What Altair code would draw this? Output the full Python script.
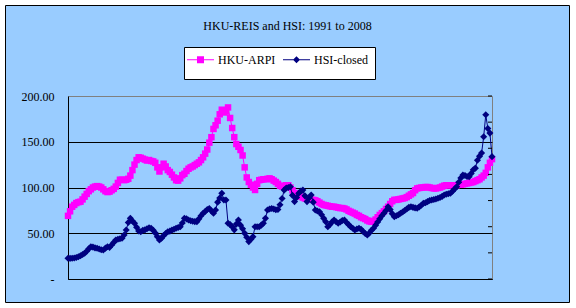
import altair as alt
import pandas as pd

TITLE = "HKU-REIS and HSI: 1991 to 2008"
SERIES = ["HKU-ARPI", "HSI-closed"]
MAGENTA = "#FF00FF"
NAVY = "#000080"

ARPI = [
    69, 74, 79, 81, 83, 84, 84.5, 87, 90, 93,
    96, 98, 100, 101, 101.5, 101, 100, 98, 96, 95,
    95.5, 97, 98.5, 101, 105, 108.5, 108.5, 108, 108.5, 109.5,
    113, 119, 125, 130, 133, 132.5, 131.5, 130.5, 129.5, 130,
    129, 128.5, 127, 122, 117.5, 122, 126, 123, 119, 117,
    114, 111, 108, 107.5, 110, 113.5, 115, 118, 120.5, 122,
    123, 124.5, 126, 127.5, 130, 133, 137, 141.5, 149, 155,
    164, 168, 173, 180, 185, 182, 183, 187.5, 176, 165,
    155, 147.5, 144.5, 141, 135, 122, 111, 106, 103, 100,
    97.3, 104, 108, 108.5, 109, 109, 109.5, 110, 109, 107.5,
    106, 104, 102, 101, 101.5, 102.5, 102.5, 100, 97, 94,
    92.5, 91, 90, 89, 88, 87.5, 87, 86.5, 86.5, 86,
    85, 83.5, 82, 81, 80.5, 80, 79.5, 79, 79, 78.5,
    78, 77.5, 77.5, 77, 76, 74.5, 73.5, 72.5, 71.5, 70,
    69, 67.5, 66.5, 65.5, 64, 63, 62.5, 63.5, 65, 67.5,
    70, 72, 74, 76.5, 79, 82, 85, 86.5, 86.5, 87,
    87.5, 88, 88.5, 89.5, 91, 92.5, 94, 97, 99, 99.5,
    100, 100, 100.5, 100.5, 100, 99.5, 99, 99, 99.5, 100,
    101, 102, 102.5, 102.5, 102.5, 102.5, 102.5, 102.5, 103, 103,
    103.5, 104, 104.5, 105, 105.5, 106, 107, 108, 109, 111,
    113, 116, 122, 127, 131,
]

HSI = [
    3960, 3950, 3970, 4000, 4100, 4250, 4450, 4700, 4920, 5300,
    5800, 6150, 6100, 5950, 5870, 5750, 5600, 5550, 5900, 6180,
    6050, 6500, 7000, 7450, 7600, 7700, 7780, 8400, 9370, 10800,
    11600, 11100, 10650, 9900, 9200, 9050, 9300, 9400, 9600, 9800,
    9700, 9300, 8800, 8100, 7460, 7800, 8300, 8700, 9050, 9150,
    9350, 9500, 9700, 9850, 10000, 10700, 11600, 11500, 11300, 11150,
    11050, 10980, 10960, 11500, 12100, 12570, 12900, 13300, 13500, 13000,
    12570, 13200, 14700, 15500, 16400, 15100, 15100, 10650, 10400, 10000,
    9400, 10500, 11300, 10300, 9600, 8750, 8000, 7150, 7600, 8100,
    10000, 10000, 10000, 10300, 10650, 11600, 13200, 13400, 13500, 13400,
    13250, 13300, 14200, 15400, 17000, 17400, 17500, 17650, 16000, 14800,
    15600, 16400, 16800, 17000, 15900, 14800, 15500, 16050, 14700, 13200,
    13000, 12870, 12300, 11600, 10950, 10000, 10400, 10900, 11280, 10950,
    10650, 10900, 11200, 11280, 10800, 10400, 10000, 9700, 9370, 9550,
    9690, 9500, 9100, 8700, 8420, 8800, 9300, 9700, 10300, 10900,
    11500, 12100, 12570, 13100, 13800, 13300, 12500, 11900, 12100, 12300,
    12570, 12800, 13100, 13400, 13700, 13830, 13700, 13600, 13520, 13800,
    14100, 14480, 14600, 14800, 15000, 15100, 15200, 15300, 15430, 15600,
    15800, 16070, 16200, 16300, 16390, 16800, 17200, 17660, 18500, 19300,
    19900, 19800, 19600, 19560, 20200, 20900, 21200, 22700, 23500, 24100,
    27200, 31400, 28800, 27900, 23400,
]

LEFT_TICKS = [0, 50, 100, 150, 200]
RIGHT_TICKS = [0, 5000, 10000, 15000, 20000, 25000, 30000, 35000]

FONT = "Liberation Serif"
W, H = 424, 183

df = pd.DataFrame({"idx": list(range(len(ARPI))), "arpi": ARPI, "hsi": HSI})
base = alt.Chart(df)

xenc = alt.X(
    "idx:Q",
    scale=alt.Scale(domain=[0, len(ARPI) - 1], nice=False, zero=False),
    axis=alt.Axis(title=None, labels=False, ticks=False, grid=False,
                  domainColor="black", domainWidth=1),
)

nb = "\u00a0"
yL = alt.Y(
    "arpi:Q",
    scale=alt.Scale(domain=[0, 200], nice=False),
    axis=alt.Axis(
        orient="left", values=LEFT_TICKS, title=None, ticks=False,
        grid=True, gridColor="black", gridWidth=1,
        gridOpacity={"condition": {"test": "datum.value >= 200", "value": 0}, "value": 1},
        domainColor="black", domainWidth=1,
        labelExpr="datum.value == 0 ? '-" + nb * 4 + "' : format(datum.value, '.2f')",
        labelFont=FONT, labelFontSize=12, labelColor="black", labelPadding=14,
    ),
)

yR_scale = alt.Scale(domain=[0, 35000], nice=False)
yR = alt.Y(
    "hsi:Q",
    scale=yR_scale,
    axis=alt.Axis(
        orient="right", values=RIGHT_TICKS, title=None, ticks=False, grid=False,
        domainColor="black", domainWidth=1,
        labelExpr="datum.value == 0 ? '-' : format(datum.value, ',.2f')",
        labelFont=FONT, labelFontSize=12, labelColor="black", labelPadding=14,
    ),
)

arpi_line = base.mark_line(color=MAGENTA, strokeWidth=1).encode(x=xenc, y=yL)
arpi_pts = base.mark_square(color=MAGENTA, size=42, opacity=1).encode(x=xenc, y=yL)
left = alt.layer(arpi_line, arpi_pts)

hsi_line = base.mark_line(color=NAVY, strokeWidth=1).encode(x=xenc, y=yR)
hsi_pts = base.mark_point(shape="diamond", filled=True, color=NAVY, size=50, opacity=1).encode(x=xenc, y=yR)
rticks = alt.Chart(pd.DataFrame({"t": RIGHT_TICKS})).mark_rule(color="black", strokeWidth=1).encode(
    y=alt.Y("t:Q", scale=yR_scale, axis=None),
    x=alt.value(W - 4), x2=alt.value(W),
)
right = alt.layer(hsi_line, hsi_pts, rticks)

# legend (entries from the color/shape scales; box drawn as a rect behind)
path_sq = "M-1,-0.04H1V0.04H-1Z M-0.26,-0.26H0.26V0.26H-0.26Z"
path_di = "M-1,-0.04H1V0.04H-1Z M0,-0.26L0.26,0L0,0.26L-0.26,0Z"
leg = alt.Legend(
    title=None, orient="none", legendX=119, legendY=-50, direction="horizontal",
    columns=2, symbolSize=729, symbolStrokeWidth=0, labelFont=FONT, labelFontSize=12,
    labelColor="black", labelOffset=4, columnPadding=7, padding=0,
)
legend_layer = alt.Chart(pd.DataFrame({"series": SERIES})).transform_filter("false").mark_point(
    filled=True, opacity=1
).encode(
    color=alt.Color("series:N", scale=alt.Scale(domain=SERIES, range=[MAGENTA, NAVY]), legend=leg),
    shape=alt.Shape("series:N", scale=alt.Scale(domain=SERIES, range=[path_sq, path_di]), legend=leg),
)

one = pd.DataFrame({"a": [0]})
frame = alt.Chart(one).mark_rect(fill="transparent", stroke="white", strokeWidth=12).encode(
    x=alt.value(-68), x2=alt.value(508), y=alt.value(-96), y2=alt.value(212)
)
border = alt.Chart(one).mark_rect(fill="transparent", stroke="black", strokeWidth=1).encode(
    x=alt.value(-62.5), x2=alt.value(501.5), y=alt.value(-90.5), y2=alt.value(206.5)
)
legbox = alt.Chart(one).mark_rect(fill="white", stroke="black", strokeWidth=1).encode(
    x=alt.value(116.5), x2=alt.value(307.5), y=alt.value(-48.5), y2=alt.value(-16.5)
)
title = alt.Chart(one).mark_text(text=TITLE, font=FONT, fontSize=12, color="black",
                                 align="center", baseline="middle").encode(
    x=alt.value(219.5), y=alt.value(-70)
)

chart = alt.layer(frame, border, title, legbox, legend_layer, left, right).resolve_scale(
    y="independent"
).properties(
    width=W, height=H, autosize="none",
    padding={"left": 68, "top": 96, "right": 84, "bottom": 29},
    background="#99CCFF",
).configure_view(fill="#C0C0C0", stroke="#808080", strokeWidth=1)

chart.save("out.html", embed_options={"renderer": "svg", "actions": False})
